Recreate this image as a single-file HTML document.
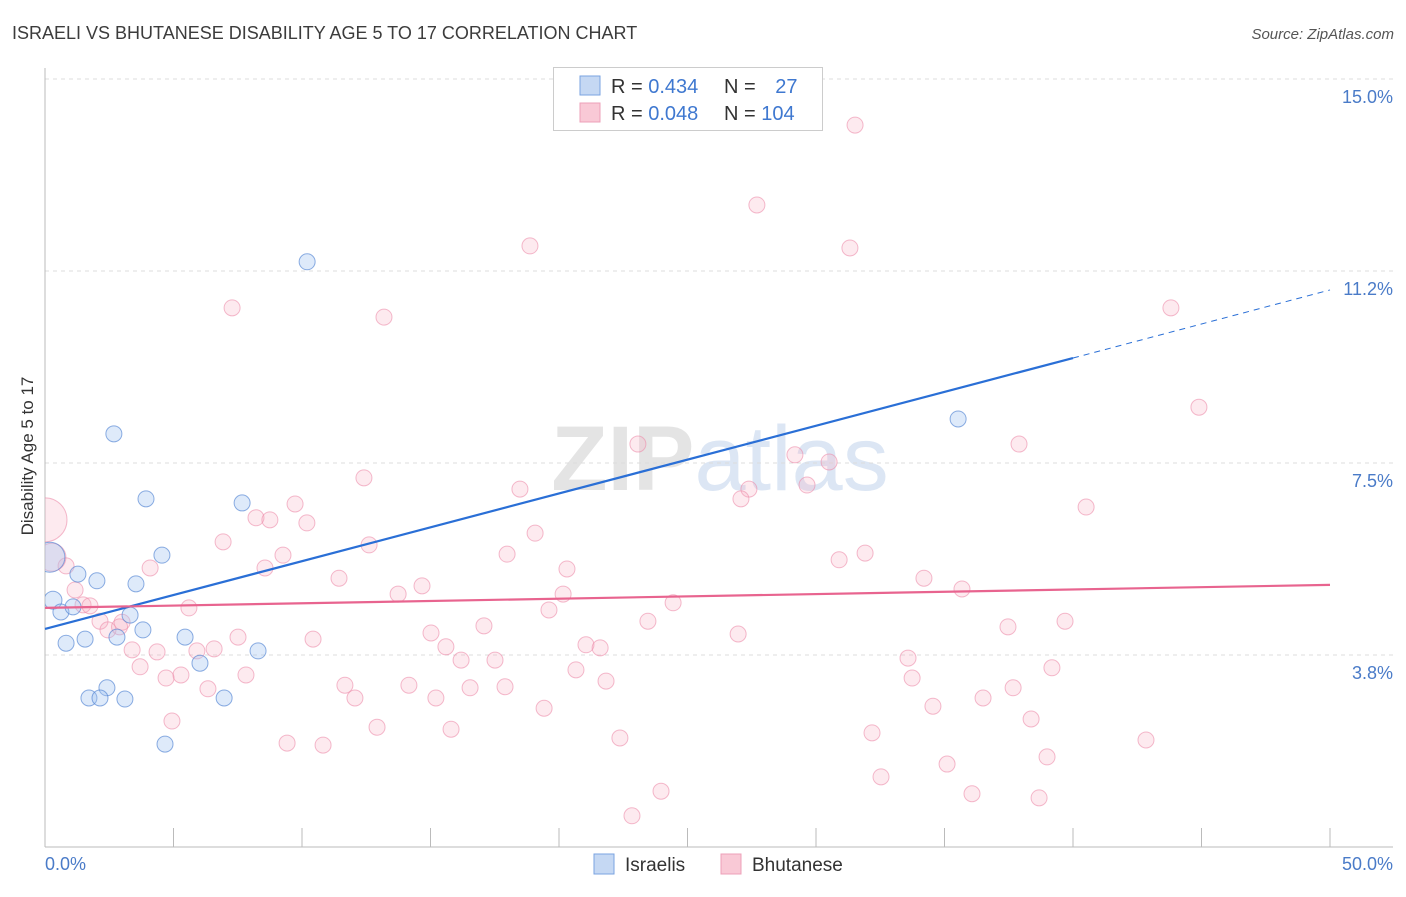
<!DOCTYPE html>
<html><head><meta charset="utf-8"><style>
body{margin:0;background:#fff;font-family:"Liberation Sans",sans-serif;}
svg text{font-family:"Liberation Sans",sans-serif;}
</style></head><body>
<svg id="chart" width="1406" height="892" viewBox="0 0 1406 892" xmlns="http://www.w3.org/2000/svg">
<defs><clipPath id="plotclip"><rect x="45" y="60" width="1360" height="787"/></clipPath></defs>
<text x="12" y="39" font-size="18" fill="#3c3c3c">ISRAELI VS BHUTANESE DISABILITY AGE 5 TO 17 CORRELATION CHART</text>
<text x="1394" y="39" font-size="15" font-style="italic" fill="#555" text-anchor="end">Source: ZipAtlas.com</text>
<text x="720" y="490" font-size="92" fill="#e4e4e4" text-anchor="middle" font-family="Liberation Serif,serif"><tspan font-weight="bold">ZIP</tspan><tspan font-family="Liberation Sans,sans-serif" fill="#dce6f4">atlas</tspan></text>
<text transform="translate(33,456) rotate(-90)" font-size="17" fill="#333" text-anchor="middle">Disability Age 5 to 17</text>
<g id="grid"></g><g id="axes"></g><g id="pts" clip-path="url(#plotclip)"></g><g id="lines"></g>
<g>
<rect x="553.5" y="67.5" width="269" height="63" fill="#fff" stroke="#ccc"/>
<rect x="580" y="76" width="20" height="19" fill="#c5d8f3" stroke="#7aa3e0"/>
<rect x="580" y="103" width="20" height="19" fill="#f9c9d6" stroke="#eda0b8"/>
<text x="611" y="93" font-size="20" fill="#333">R = <tspan fill="#3f78d0">0.434</tspan></text>
<text x="724" y="93" font-size="20" fill="#333">N = <tspan fill="#3f78d0" dx="14">27</tspan></text>
<text x="611" y="120" font-size="20" fill="#333">R = <tspan fill="#3f78d0">0.048</tspan></text>
<text x="724" y="120" font-size="20" fill="#333">N = <tspan fill="#3f78d0">104</tspan></text>
</g>
<g>
<rect x="594" y="854" width="20" height="20" fill="#c5d8f3" stroke="#7aa3e0"/>
<text x="625" y="871" font-size="19" fill="#333">Israelis</text>
<rect x="721" y="854" width="20" height="20" fill="#f9c9d6" stroke="#eda0b8"/>
<text x="752" y="871" font-size="19" fill="#333">Bhutanese</text>
</g>
</svg>
<script>
const yTicks=[3.8,7.5,11.2,15.0];
const yTickVals=[3.75,7.5,11.25,15.0];
const israX=[10.2,2.68,3.93,7.67,4.55,0.19,1.28,2.02,3.54,0.31,0.62,1.09,3.31,3.81,2.80,5.45,0.82,1.56,8.29,6.03,2.41,1.71,2.14,3.11,6.97,4.67,35.53];
const israY=[11.43,8.07,6.80,6.72,5.70,5.66,5.33,5.20,5.14,4.82,4.59,4.69,4.53,4.24,4.10,4.10,3.98,4.06,3.83,3.59,3.11,2.91,2.91,2.89,2.91,2.01,8.36];
const israR=[8,8,8,8,8,15,8,8,8,9,8,8,8,8,8,8,8,8,8,8,8,8,8,8,8,8,8];
const bhuX=[31.52,27.70,18.87,31.32,7.28,13.19,43.81,44.90,23.07,37.90,29.18,30.51,12.41,18.48,27.39,29.65,27.08,9.73,40.51,8.21,8.75,10.19,19.07,6.93,12.61,9.26,17.98,31.91,30.90,8.56,4.09,20.31,0.82,0.27,11.44,34.20,14.67,35.68,1.17,20.16,13.74,1.48,1.75,5.60,24.44,19.61,23.46,39.69,37.47,17.08,2.14,3.00,2.45,15.02,10.43,7.51,26.97,21.05,21.60,15.60,3.39,4.36,5.91,6.58,16.19,17.51,33.58,3.70,39.18,20.66,5.29,4.71,7.82,33.74,21.83,11.67,14.16,16.54,17.90,6.34,37.67,12.06,15.21,36.50,34.55,19.42,4.94,38.37,12.92,15.80,32.18,22.37,9.42,10.82,42.84,38.99,35.10,32.53,23.97,36.07,38.68,22.84,0.0,2.9];
const bhuY=[14.10,12.54,11.74,11.70,10.53,10.35,10.53,8.59,7.87,7.87,7.66,7.52,7.21,6.99,6.99,7.07,6.80,6.70,6.64,6.43,6.39,6.33,6.13,5.96,5.90,5.70,5.72,5.74,5.61,5.45,5.45,5.43,5.49,5.66,5.25,5.25,5.10,5.04,5.02,4.94,4.94,4.73,4.71,4.67,4.77,4.63,4.41,4.41,4.30,4.32,4.41,4.39,4.24,4.18,4.06,4.10,4.16,3.95,3.89,3.91,3.85,3.81,3.83,3.87,3.65,3.65,3.69,3.52,3.50,3.46,3.36,3.30,3.36,3.30,3.24,3.16,3.16,3.11,3.13,3.09,3.11,2.91,2.91,2.91,2.75,2.71,2.46,2.50,2.34,2.30,2.23,2.13,2.03,1.99,2.09,1.76,1.62,1.37,1.09,1.04,0.96,0.61,6.39,4.30];
const bhuR=[8,8,8,8,8,8,8,8,8,8,8,8,8,8,8,8,8,8,8,8,8,8,8,8,8,8,8,8,8,8,8,8,8,14,8,8,8,8,8,8,8,8,8,8,8,8,8,8,8,8,8,8,8,8,8,8,8,8,8,8,8,8,8,8,8,8,8,8,8,8,8,8,8,8,8,8,8,8,8,8,8,8,8,8,8,8,8,8,8,8,8,8,8,8,8,8,8,8,8,8,8,8,22,8];
const israTrend=[[0,4.26],[40,9.55],[50,10.88]];
const bhuTrend=[[0,4.67],[50,5.12]];
const X0=45,X1=1330,YB=847,PX=51.2;
const sx=v=>X0+(v/50)*(X1-X0), sy=v=>YB-v*PX;
const NS='http://www.w3.org/2000/svg';
function mk(tag,attrs,parent){const e=document.createElementNS(NS,tag);for(const k in attrs)e.setAttribute(k,attrs[k]);document.getElementById(parent).appendChild(e);return e;}
yTickVals.forEach((v,i)=>{
 const g=mk('line',{x1:X0,x2:1393,y1:sy(v),y2:sy(v),stroke:'#dcdcdc','stroke-dasharray':'4,4'},'grid');
 
 
 const t=mk('text',{x:1393,y:sy(v)+24,'font-size':18,fill:'#4a7bc8','text-anchor':'end'},'grid');
 t.textContent=yTicks[i].toFixed(1)+'%';
 
 
});
const ax=mk('line',{x1:X0,x2:1393,y1:YB,y2:YB,stroke:'#bbb'},'axes');


const ay=mk('line',{x1:X0,x2:X0,y1:68,y2:YB,stroke:'#bbb'},'axes');


for(let v=0;v<=50;v+=5){
 const tk=mk('line',{x1:sx(v),x2:sx(v),y1:YB,y2:828,stroke:'#bbb'},'axes');
 
 
}
const xl=mk('text',{x:45,y:870,'font-size':18,fill:'#4a7bc8'},'axes');xl.textContent='0.0%';


const xr=mk('text',{x:1393,y:870,'font-size':18,fill:'#4a7bc8','text-anchor':'end'},'axes');xr.textContent='50.0%';


bhuX.forEach((v,i)=>{
 const c=mk('circle',{cx:sx(v),cy:sy(bhuY[i]),r:bhuR[i],fill:'rgba(246,170,192,0.25)',stroke:'rgba(236,140,170,0.6)','stroke-width':1},'pts');
 
 
});
israX.forEach((v,i)=>{
 const c=mk('circle',{cx:sx(v),cy:sy(israY[i]),r:israR[i],fill:'rgba(160,195,240,0.35)',stroke:'rgba(80,130,210,0.65)','stroke-width':1},'pts');
 
 
});
const b1=mk('line',{x1:sx(israTrend[0][0]),y1:sy(israTrend[0][1]),x2:sx(israTrend[1][0]),y2:sy(israTrend[1][1]),stroke:'#2a6fd6','stroke-width':2.2},'lines');


const b2=mk('line',{x1:sx(israTrend[1][0]),y1:sy(israTrend[1][1]),x2:sx(israTrend[2][0]),y2:sy(israTrend[2][1]),stroke:'#2a6fd6','stroke-width':1,'stroke-dasharray':'6,5'},'lines');


const p1=mk('line',{x1:sx(bhuTrend[0][0]),y1:sy(bhuTrend[0][1]),x2:sx(bhuTrend[1][0]),y2:sy(bhuTrend[1][1]),stroke:'#e8648f','stroke-width':2.2},'lines');


</script>
</body></html>
